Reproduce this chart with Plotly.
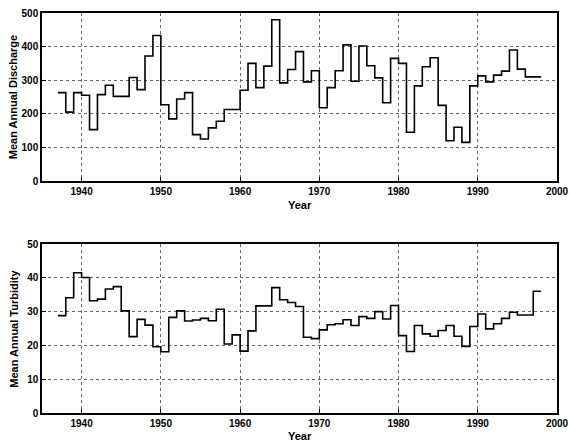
import plotly.graph_objects as go

# annual series, one value per year (last year repeated so the final stair closes)
years = list(range(1937, 1999))

discharge = [263, 205, 263, 255, 153, 257, 285, 252, 252, 308,
             272, 372, 433, 227, 185, 244, 263, 138, 125, 158,
             178, 213, 213, 270, 350, 278, 342, 480, 292, 332,
             385, 295, 328, 218, 278, 328, 405, 297, 402, 343,
             307, 233, 365, 350, 145, 283, 340, 367, 225, 120,
             160, 115, 283, 313, 295, 315, 327, 390, 333, 310,
             310, 310]

turbidity = [28.8, 34.1, 41.5, 40.1, 33.2, 33.7, 36.7, 37.4, 30.2, 22.6,
             27.7, 26.0, 19.6, 18.1, 28.3, 30.2, 27.2, 27.5, 28.0, 27.3,
             30.7, 20.4, 23.1, 18.3, 24.3, 31.7, 31.7, 37.1, 33.5, 32.7,
             31.5, 22.4, 22.0, 24.6, 26.1, 26.4, 27.6, 25.9, 28.5, 28.0,
             30.0, 27.8, 31.8, 22.9, 18.2, 25.9, 23.4, 22.7, 24.4, 25.9,
             22.7, 19.7, 25.6, 29.3, 24.9, 26.4, 28.0, 29.8, 29.0, 29.0,
             36.0, 36.0]

xTicks = [1940, 1950, 1960, 1970, 1980, 1990, 2000]
dischargeTicks = [0, 100, 200, 300, 400, 500]
turbidityTicks = [0, 10, 20, 30, 40, 50]

font = dict(family="Arial, Liberation Sans, sans-serif", size=11, color="black", weight="bold")
tickFont = dict(font, size=10)

dischargeTrace = go.Scatter(
    x=years, y=discharge, mode="lines", line=dict(shape="hv", color="black", width=1.6),
    xaxis="x", yaxis="y", name="discharge", showlegend=False
)
turbidityTrace = go.Scatter(
    x=years, y=turbidity, mode="lines", line=dict(shape="hv", color="black", width=1.6),
    xaxis="x2", yaxis="y2", name="turbidity", showlegend=False
)

axisStyle = dict(
    showline=True, linecolor="black", linewidth=1.5, mirror=True,
    ticks="inside", ticklen=4, tickcolor="black",
    showgrid=True, gridcolor="#666666", griddash="dot", gridwidth=1,
    zeroline=False, tickfont=tickFont, automargin=False, ticklabeloverflow="allow"
)

def label(text, x, y, angle=0):
    return dict(text=text, x=x, y=y, xref="paper", yref="paper", showarrow=False,
                textangle=angle, font=font, xanchor="center", yanchor="middle")

fig = go.Figure(data=[dischargeTrace, turbidityTrace])
fig.update_layout(
    width=570, height=443,
    margin=dict(l=42, r=13, t=13, b=30),
    paper_bgcolor="white", plot_bgcolor="white",
    font=font,
    xaxis=dict(axisStyle, domain=[0, 1], range=[1935, 2000], tickvals=xTicks, anchor="y"),
    yaxis=dict(axisStyle, domain=[0.58, 1.0], range=[0, 500], tickvals=dischargeTicks, anchor="x"),
    xaxis2=dict(axisStyle, domain=[0, 1], range=[1935, 2000], tickvals=xTicks, anchor="y2"),
    yaxis2=dict(axisStyle, domain=[0.0, 0.4225], range=[0, 50], tickvals=turbidityTicks, anchor="x2"),
    annotations=[
        label("Year", 0.5, 0.52),
        label("Year", 0.5, -0.0575),
        label("Mean Annual Discharge", -0.056, 0.79, -90),
        label("Mean Annual Turbidity", -0.056, 0.211, -90),
    ],
)

# drop the default body margin so the figure fills the window exactly
fig.write_html("out.html", config={"displayModeBar": False},
               post_script="document.body.style.margin='0';")
